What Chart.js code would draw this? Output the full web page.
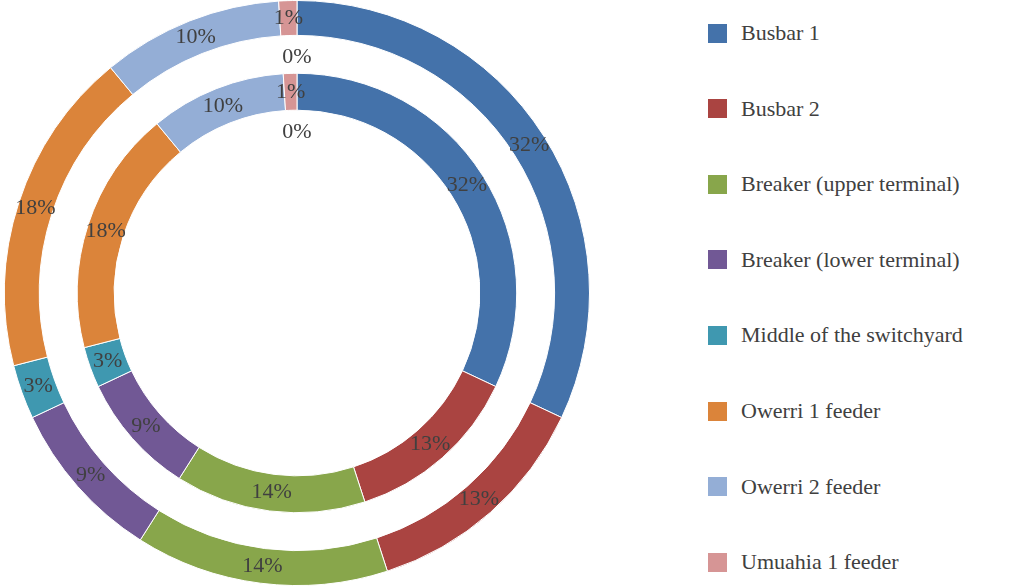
<!DOCTYPE html>
<html><head><meta charset="utf-8">
<script src="https://cdn.jsdelivr.net/npm/chart.js@4"></script>
<style>
body{margin:0;background:#fff;width:1035px;height:587px;overflow:hidden;position:relative;font-family:"Liberation Serif",serif}
#wrap{position:absolute;left:0;top:0;width:594px;height:586px}
#legend{position:absolute;left:708px;top:0}
.item{position:absolute;left:0;white-space:nowrap;font-size:22px;color:#404040;display:flex;align-items:center}
.box{width:19px;height:19px;margin-right:14px}
</style></head><body>
<div id="wrap"><canvas id="c"></canvas></div>
<div id="legend"></div>
<script>
const categories=["Busbar 1","Busbar 2","Breaker (upper terminal)","Breaker (lower terminal)","Middle of the switchyard","Owerri 1 feeder","Owerri 2 feeder","Umuahia 1 feeder",""];
const outerValues=[32,13,14,9,3,18,10,1,0];
const innerValues=[32,13,14,9,3,18,10,1,0];
const colors=["#4472AA","#AA4441","#88A64B","#715895","#3F98B0","#DB843A","#94AED6","#D69595","#999999"];

const lg=document.getElementById('legend');
categories.slice(0,8).forEach((c,i)=>{
  const d=document.createElement('div');d.className='item';d.style.top=(33+i*75.6-13)+'px';
  d.innerHTML='<span class="box" style="background:'+colors[i]+'"></span>'+c;lg.appendChild(d);
});

const labelPlugin={id:'lbl',afterDatasetsDraw(chart){
  const ctx=chart.ctx;ctx.save();
  ctx.font='22px "Liberation Serif"';ctx.fillStyle='#404040';ctx.textAlign='center';ctx.textBaseline='middle';
  [0,2].forEach(di=>{
    const meta=chart.getDatasetMeta(di);const data=chart.data.datasets[di].data;
    meta.data.forEach((arc,i)=>{
      const p=arc.getProps(['x','y','startAngle','endAngle','innerRadius','outerRadius'],true);
      const a=(p.startAngle+p.endAngle)/2;
      let r=(p.innerRadius+p.outerRadius)/2;
      if(data[i]===0) r=p.innerRadius-22;
      ctx.fillText(data[i]+'%',p.x+Math.cos(a)*r,p.y+Math.sin(a)*r);
    });
  });
  ctx.restore();
}};

new Chart(document.getElementById('c'),{
  type:'doughnut',
  data:{labels:categories,datasets:[
    {data:outerValues,backgroundColor:colors,borderColor:'#fff',borderWidth:1,weight:35},
    {data:[1],backgroundColor:'rgba(0,0,0,0)',borderWidth:0,weight:38},
    {data:innerValues,backgroundColor:colors,borderColor:'#fff',borderWidth:1,weight:37}
  ]},
  options:{responsive:true,maintainAspectRatio:false,animation:false,cutout:'62.5%',
    layout:{padding:0},
    plugins:{legend:{display:false},tooltip:{enabled:false}}},
  plugins:[labelPlugin]
});
</script></body></html>
